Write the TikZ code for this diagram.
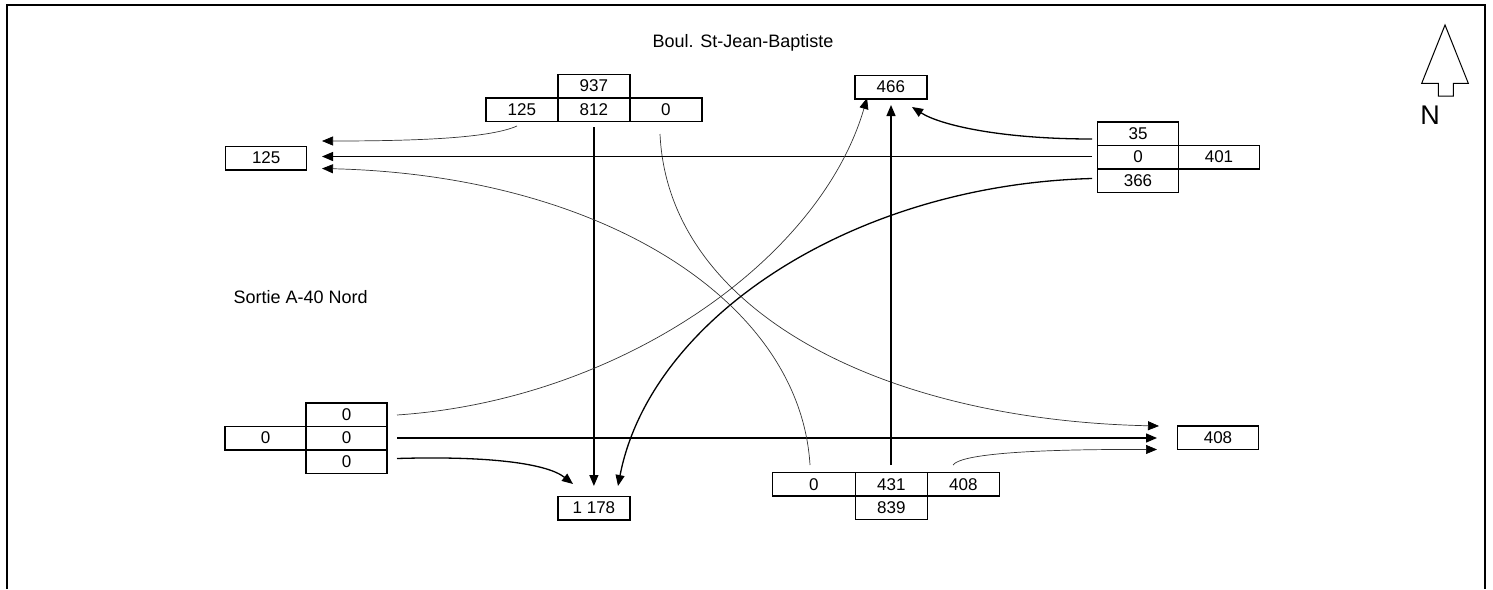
\documentclass[tikz,border=0pt]{standalone}
\usepackage{fontspec}
\setmainfont{Liberation Sans}
\usetikzlibrary{arrows.meta,positioning}

\begin{document}
\begin{tikzpicture}[x=1pt,y=-1pt,
    cell/.style={draw,line width=1.5pt,inner sep=0pt,outer sep=0pt,
      minimum width=72pt,minimum height=23.5pt,font=\fontsize{17}{17}\selectfont},
    wide/.style={cell,minimum width=81pt},
    flow/.style={line width=1.3pt,-{Triangle[length=11pt,width=9pt]}},
    thinflow/.style={line width=0.7pt,black!80,-{Triangle[length=11pt,width=9pt,color=black]}}]
  \useasboundingbox (0,0) rectangle (1493,589);
  \draw[line width=2pt] (7,589) -- (7,5) -- (1485,5) -- (1485,589);

  % north arrow
  \draw[line width=1pt] (1445,25) -- (1468.3,83.3) -- (1453.3,83.3) -- (1453.3,96)
    -- (1438.3,96) -- (1438.3,83.3) -- (1421.7,83.3) -- cycle;
  \node[anchor=base,font=\fontsize{27}{27}\selectfont] (nord) at (1430,124) {N};

  \node[anchor=base,font=\fontsize{18}{18}\selectfont] (boul) at (743,47.5) {Boul. St-Jean-Baptiste};
  \node[anchor=base west,font=\fontsize{18}{18}\selectfont] (sortie) at (230,303.5) {Sortie A-40 Nord};

  % approaches
  \node[cell] (s812) at (593.9,109.5) {812};
  \node[cell,above=0pt of s812] (s937) {937};
  \node[cell,left=0pt of s812] (s125) {125};
  \node[cell,right=0pt of s812] (s0) {0};

  \node[wide] (w0) at (1138,157) {0};
  \node[wide,above=0pt of w0] (w35) {35};
  \node[wide,below=0pt of w0] (w366) {366};
  \node[wide,right=0pt of w0] (w401) {401};

  \node[wide] (e0) at (346.7,438) {0};
  \node[wide,above=0pt of e0] (e0t) {0};
  \node[wide,below=0pt of e0] (e0b) {0};
  \node[wide,left=0pt of e0] (e0l) {0};

  \node[cell] (n431) at (891.3,484.3) {431};
  \node[cell,minimum width=83pt,left=0pt of n431] (n0) {0};
  \node[cell,right=0pt of n431] (n408) {408};
  \node[cell,below=0pt of n431] (n839) {839};

  % departures
  \node[wide] (o125) at (266.2,158) {125};
  \node[cell] (o466) at (890.8,87) {466};
  \node[cell] (o1178) at (593.9,508) {1 178};
  \node[wide] (o408) at (1218,437.5) {408};

  \coordinate (a125) at (517,126);
  \coordinate (a812) at (593.9,127);
  \coordinate (a0) at (660,134);
  \coordinate (b35) at (1092,139);
  \coordinate (b0) at (1092,156.5);
  \coordinate (b366) at (1092,178.5);
  \coordinate (c0t) at (397,415);
  \coordinate (c0m) at (397,438);
  \coordinate (c0b) at (397,458.5);
  \coordinate (d0) at (810,465);
  \coordinate (d431) at (891,465);
  \coordinate (d408) at (953,465);

  \coordinate (t125a) at (322,141);
  \coordinate (t125b) at (322,156.5);
  \coordinate (t125c) at (322,168.5);
  \coordinate (t466a) at (867,98);
  \coordinate (t466b) at (891,105);
  \coordinate (t466c) at (912,107);
  \coordinate (t1178a) at (573,484);
  \coordinate (t1178b) at (593.9,486);
  \coordinate (t1178c) at (618,486);
  \coordinate (t408a) at (1159,426);
  \coordinate (t408b) at (1157,438);
  \coordinate (t408c) at (1157,449.5);

  \draw[thinflow] (a125) .. controls (490,138) and (420,141) .. (t125a);
  \draw[flow] (a812) -- (t1178b);
  \draw[thinflow] (a0) .. controls (668,310) and (880,420) .. (t408a);

  \draw[flow] (b35) .. controls (1000,139) and (940,125) .. (t466c);
  \draw[flow] (b0) -- (t125b);
  \draw[flow] (b366) .. controls (850,185) and (650,320) .. (t1178c);

  \draw[thinflow] (c0t) .. controls (620,400) and (820,260) .. (t466a);
  \draw[flow] (c0m) -- (t408b);
  \draw[flow] (c0b) .. controls (480,456) and (545,462) .. (t1178a);

  \draw[thinflow] (d0) .. controls (800,300) and (600,175) .. (t125c);
  \draw[flow] (d431) -- (t466b);
  \draw[thinflow] (d408) .. controls (960,455) and (1020,449) .. (t408c);
\end{tikzpicture}
\end{document}
